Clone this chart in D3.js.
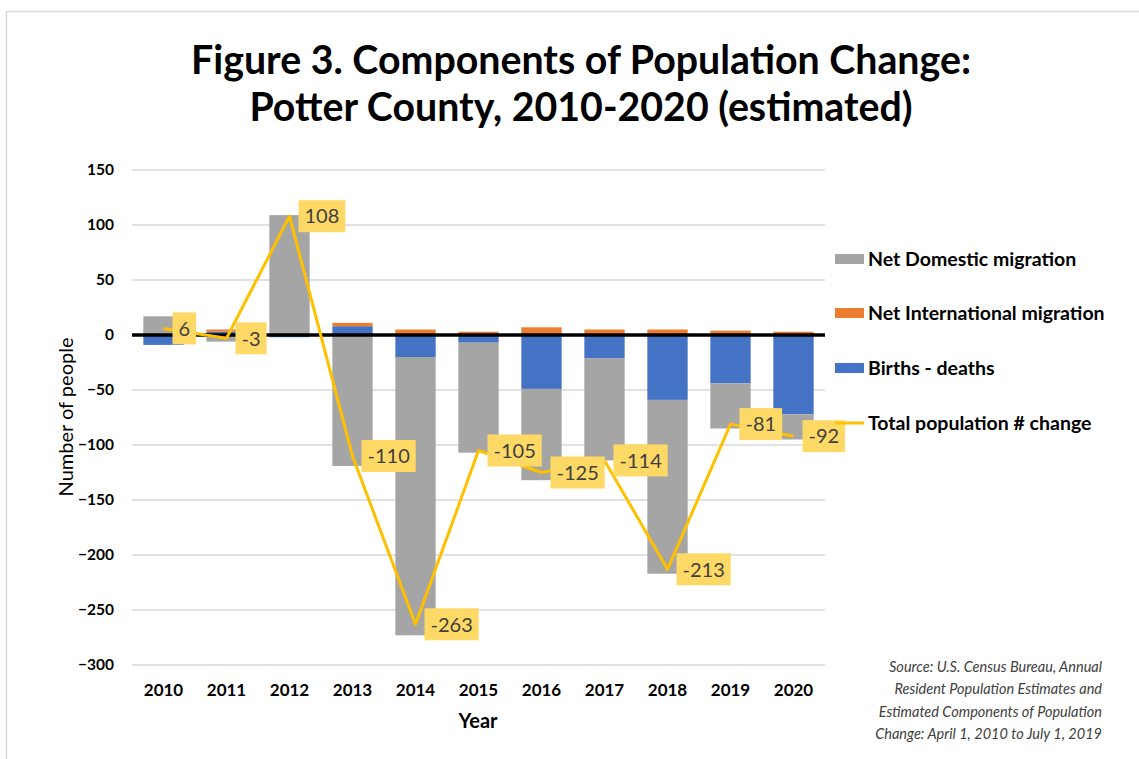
<!DOCTYPE html>
<html><head><meta charset="utf-8">
<script src="https://cdn.jsdelivr.net/npm/d3@7"></script>
<style>body{margin:0;background:#fff}svg{display:block;font-family:Lato,"Open Sans",sans-serif}</style>
</head><body>
<svg id="c" width="1139" height="759"></svg>
<script>
const years = ["2010","2011","2012","2013","2014","2015","2016","2017","2018","2019","2020"];
const birthsDeaths = [-9, 3, -2, 8, -20, -7, -49, -21, -59, -44, -72];
const netInternational = [0, 2, 0, 3, 5, 3, 7, 5, 5, 4, 3];
const netDomestic = [17, -6, 109, -119, -253, -100, -83, -93, -158, -41, -23];
const totalChange = [6, -3, 108, -110, -263, -105, -125, -114, -213, -81, -92];
const yTicks = [150, 100, 50, 0, -50, -100, -150, -200, -250, -300];
const seriesNames = ["Net Domestic migration", "Net International migration", "Births - deaths", "Total population # change"];
const colors = {dom:"#A5A5A5", intl:"#ED7D31", births:"#4472C4", total:"#FFC000"};

const svg = d3.select("#c");
svg.append("rect").attr("x",6.5).attr("y",11.5).attr("width",1300).attr("height",900)
  .attr("fill","none").attr("stroke","#d9d9d9").attr("stroke-width",1.5);

const x = d3.scaleBand().domain(years).range([132, 825]).paddingInner(0.36).paddingOuter(0.18);
const y = d3.scaleLinear().domain([-300, 150]).range([665, 170]);

// gridlines
svg.append("g").selectAll("line").data(yTicks.filter(d=>d!==0)).join("line")
  .attr("x1",132).attr("x2",825).attr("y1",d=>y(d)).attr("y2",d=>y(d))
  .attr("stroke","#d9d9d9").attr("stroke-width",1.5);

// y tick labels
const yAxis = d3.axisLeft(y).tickValues(yTicks).tickSize(0).tickPadding(0);
const ya = svg.append("g").attr("transform","translate(114,0)").call(yAxis);
ya.select(".domain").remove();
ya.selectAll("text").attr("font-family","Lato").attr("font-size",15.5).attr("font-weight","bold").attr("fill","#000");

// x tick labels
const xAxis = d3.axisBottom(x).tickSize(0).tickPadding(0);
const xa = svg.append("g").attr("transform","translate(0,684)").call(xAxis);
xa.select(".domain").remove();
xa.selectAll("text").attr("font-family","Lato").attr("font-size",17).attr("font-weight","bold").attr("fill","#000").attr("dy","0.71em");

// stacked bars
const rows = years.map((yr,i)=>({year:yr, births:birthsDeaths[i], intl:netInternational[i], dom:netDomestic[i]}));
const stack = d3.stack().keys(["births","intl","dom"]).offset(d3.stackOffsetDiverging);
const layers = stack(rows);
svg.append("g").selectAll("g").data(layers).join("g").attr("fill",d=>colors[d.key])
  .selectAll("rect").data(d=>d).join("rect")
  .attr("x",d=>x(d.data.year)).attr("width",x.bandwidth())
  .attr("y",d=>y(Math.max(d[0],d[1]))).attr("height",d=>Math.abs(y(d[0])-y(d[1])));

// zero line
svg.append("line").attr("x1",132).attr("x2",825).attr("y1",y(0)).attr("y2",y(0))
  .attr("stroke","#000").attr("stroke-width",3.5);

// total line
const cx = d=>x(d)+x.bandwidth()/2;
const line = d3.line().x((d,i)=>cx(years[i])).y(d=>y(d));
svg.append("path").datum(totalChange).attr("d",line).attr("fill","none")
  .attr("stroke",colors.total).attr("stroke-width",3).attr("stroke-linejoin","round");

// labels
const lg = svg.append("g");
totalChange.forEach((v,i)=>{
  const px = cx(years[i]), py = y(v);
  const g = lg.append("g");
  const t = g.append("text").attr("x",px+15).attr("y",py).attr("dy","0.36em")
    .attr("font-family","Lato").attr("font-size",20).attr("fill","#404040").text(v);
  const w = t.node().getComputedTextLength();
  g.insert("rect","text").attr("x",px+9).attr("y",py-16).attr("width",w+12).attr("height",32).attr("fill","#FFD966");
});

// title
svg.append("text").attr("x",581).attr("y",74).attr("text-anchor","middle").attr("font-family","Lato")
  .attr("font-weight","bold").attr("font-size",39.3).attr("fill","#000").text("Figure 3. Components of Population Change:");
svg.append("text").attr("x",581).attr("y",121).attr("text-anchor","middle").attr("font-family","Lato")
  .attr("font-weight","bold").attr("font-size",39.3).attr("fill","#000").text("Potter County, 2010-2020 (estimated)");

// axis titles
svg.append("text").attr("transform","translate(73,417) rotate(-90)").attr("text-anchor","middle")
  .attr("font-family","Lato").attr("font-size",20).attr("fill","#000").text("Number of people");
svg.append("text").attr("x",478).attr("y",728).attr("text-anchor","middle")
  .attr("font-family","Lato").attr("font-weight","bold").attr("font-size",20).attr("fill","#000").text("Year");

// legend
const legY = [259, 313, 368, 423];
const legCol = [colors.dom, colors.intl, colors.births, colors.total];
seriesNames.forEach((n,i)=>{
  if(i<3) svg.append("rect").attr("x",835).attr("y",legY[i]-5).attr("width",29).attr("height",10).attr("fill",legCol[i]);
  else svg.append("line").attr("x1",835).attr("x2",864).attr("y1",legY[i]).attr("y2",legY[i]).attr("stroke",legCol[i]).attr("stroke-width",3);
  svg.append("text").attr("x",868).attr("y",legY[i]).attr("dy","0.35em").attr("font-family","Lato")
    .attr("font-weight","bold").attr("font-size",19.5).attr("fill","#000").text(n);
});

// source
const src = ["Source: U.S. Census Bureau, Annual","Resident Population Estimates and","Estimated Components of Population","Change: April 1, 2010 to July 1, 2019"];
src.forEach((s,i)=>svg.append("text").attr("x",1102).attr("y",672+i*22.3).attr("text-anchor","end")
  .attr("font-family","Lato").attr("font-style","italic").attr("font-size",14.5).attr("fill","#404040").text(s));
</script>
</body></html>
